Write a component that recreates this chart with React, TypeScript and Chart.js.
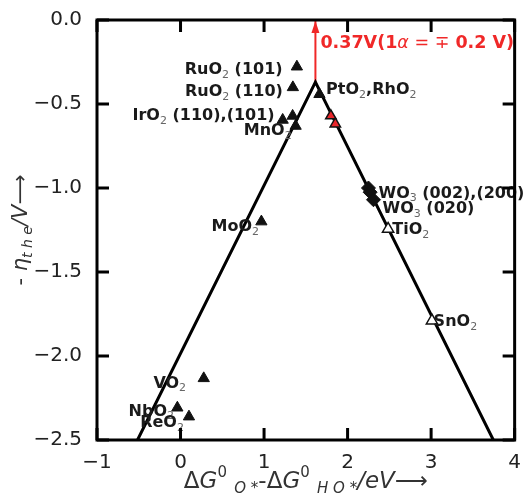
import React, { useEffect, useRef } from "react";
import { Chart, registerables } from "chart.js";

Chart.register(...registerables);

// Volcano branches: limiting potential vs. descriptor, meeting at the apex
const volcanoX = [-0.515, 1.615, 3.745];
const volcanoY = [-2.5, -0.37, -2.5];

// Apex of the volcano (top of the red arrow)
const apexX = 1.615;
const apexY = -0.37;

// Rutile-type oxides (filled black triangles)
const oxideNames = ["RuO2(101)", "RuO2(110)", "IrO2(110)", "IrO2(101)", "MnO2", "PtO2", "MoO2", "VO2", "NbO2", "ReO2"];
const oxideX = [1.393, 1.345, 1.223, 1.342, 1.378, 1.663, 0.968, 0.278, -0.038, 0.101];
const oxideY = [-0.278, -0.401, -0.595, -0.571, -0.631, -0.442, -1.2, -2.133, -2.308, -2.361];

// RhO2 surfaces (red triangles)
const rhoX = [1.8, 1.853];
const rhoY = [-0.57, -0.619];

// WO3 surfaces (black diamonds)
const wo3X = [2.25, 2.27, 2.31];
const wo3Y = [-1.0, -1.025, -1.07];

// TiO2, SnO2 (open triangles)
const openX = [2.485, 3.01];
const openY = [-1.244, -1.79];

// Axis ticks
const xTicks = [-1, 0, 1, 2, 3, 4];
const yTicks = [0, -0.5, -1, -1.5, -2, -2.5];

// Point labels ("_" marks the following character as a subscript)
const labelTexts = [
  "RuO_2 (101)",
  "RuO_2 (110)",
  "IrO_2 (110),(101)",
  "MnO_2",
  "PtO_2,RhO_2",
  "WO_3 (002),(200)",
  "WO_3 (020)",
  "TiO_2",
  "MoO_2",
  "SnO_2",
  "VO_2",
  "NbO_2",
  "ReO_2",
];
const labelX = [1.222, 1.225, 1.127, 0.757, 1.743, 2.37, 2.418, 2.536, 0.372, 3.03, -0.325, -0.622, -0.483];
const labelY = [-0.298, -0.427, -0.571, -0.659, -0.417, -1.032, -1.127, -1.25, -1.232, -1.796, -2.163, -2.331, -2.4];
const labelAlign = ["right", "right", "right", "left", "left", "left", "left", "left", "left", "left", "left", "left", "left"];

const annotationText = "0.37V(1";

type Seg = { t: string; font: string; dy?: number; color?: string };

const FAM = "'DejaVu Sans'";
const LABEL_FONT = `bold 16px ${FAM}`;
const SUB_FONT = `11px ${FAM}`;

function drawRich(
  ctx: CanvasRenderingContext2D,
  segs: Seg[],
  x: number,
  y: number,
  align: string,
  color: string
) {
  ctx.save();
  ctx.textBaseline = "middle";
  ctx.textAlign = "left";
  let w = 0;
  for (const s of segs) {
    ctx.font = s.font;
    w += ctx.measureText(s.t).width;
  }
  let cx = align === "left" ? x : align === "right" ? x - w : x - w / 2;
  for (const s of segs) {
    ctx.font = s.font;
    ctx.fillStyle = s.color || color;
    ctx.fillText(s.t, cx, y + (s.dy || 0));
    cx += ctx.measureText(s.t).width;
  }
  ctx.restore();
}

function labelSegs(text: string): Seg[] {
  const segs: Seg[] = [];
  let buf = "";
  for (let i = 0; i < text.length; i++) {
    const ch = text[i];
    if (ch === "_" && i + 1 < text.length) {
      if (buf) segs.push({ t: buf, font: LABEL_FONT });
      buf = "";
      segs.push({ t: text[i + 1], font: SUB_FONT, dy: 5, color: "#666" });
      i++;
    } else {
      buf += ch;
    }
  }
  if (buf) segs.push({ t: buf, font: LABEL_FONT });
  return segs;
}

const fmtMinus = (s: string) => s.replace("-", "\u2212");

const decorPlugin = {
  id: "decor",
  afterDatasetsDraw(chart: any) {
    const ctx: CanvasRenderingContext2D = chart.ctx;
    const { left, right, top, bottom } = chart.chartArea;
    const xs = chart.scales.x;
    const ys = chart.scales.y;

    // red arrow head at the top of the apex line
    const ax = xs.getPixelForValue(apexX);
    const ay = ys.getPixelForValue(0);
    ctx.save();
    ctx.fillStyle = "#f02828";
    ctx.beginPath();
    ctx.moveTo(ax, ay + 1);
    ctx.lineTo(ax - 4, ay + 13);
    ctx.lineTo(ax + 4, ay + 13);
    ctx.closePath();
    ctx.fill();
    ctx.restore();

    // point labels
    for (let i = 0; i < labelTexts.length; i++) {
      drawRich(
        ctx,
        labelSegs(labelTexts[i]),
        xs.getPixelForValue(labelX[i]),
        ys.getPixelForValue(labelY[i]),
        labelAlign[i],
        "#1a1a1a"
      );
    }

    // frame and inward ticks on all four sides
    ctx.save();
    ctx.strokeStyle = "#000";
    ctx.lineWidth = 3;
    ctx.lineCap = "butt";
    ctx.strokeRect(left, top, right - left, bottom - top);
    const tl = 12;
    ctx.beginPath();
    for (const v of xTicks) {
      const px = xs.getPixelForValue(v);
      ctx.moveTo(px, bottom);
      ctx.lineTo(px, bottom - tl);
      ctx.moveTo(px, top);
      ctx.lineTo(px, top + tl);
    }
    for (const v of yTicks) {
      const py = ys.getPixelForValue(v);
      ctx.moveTo(left, py);
      ctx.lineTo(left + tl, py);
      ctx.moveTo(right, py);
      ctx.lineTo(right - tl, py);
    }
    ctx.stroke();
    ctx.restore();

    // annotation of the apex value
    const red = "#f02828";
    const RF = 17.5;
    drawRich(
      ctx,
      [
        { t: annotationText, font: `bold ${RF}px ${FAM}` },
        { t: "\u03b1", font: `italic ${RF}px ${FAM}` },
        { t: " = ", font: `${RF}px ${FAM}` },
        { t: "\u2213", font: `${RF}px ${FAM}` },
        { t: " 0.2 V)", font: `bold ${RF}px ${FAM}` },
      ],
      ax + 5,
      ys.getPixelForValue(-0.14),
      "left",
      red
    );

    // x axis title
    const tc = "#333";
    const F = 23;
    drawRich(
      ctx,
      [
        { t: "\u0394", font: `${F}px ${FAM}` },
        { t: "G", font: `italic ${F}px ${FAM}` },
        { t: "0", font: `15px ${FAM}`, dy: -9 },
        { t: " ", font: `${F}px ${FAM}` },
        { t: "O *", font: `italic 15px ${FAM}`, dy: 7 },
        { t: "-\u0394", font: `${F}px ${FAM}` },
        { t: "G", font: `italic ${F}px ${FAM}` },
        { t: "0", font: `15px ${FAM}`, dy: -9 },
        { t: " ", font: `${F}px ${FAM}` },
        { t: "H O *", font: `italic 15px ${FAM}`, dy: 7 },
        { t: "/eV", font: `italic ${F}px ${FAM}` },
        { t: "\u27f6", font: `${F}px ${FAM}` },
      ],
      (left + right) / 2,
      482,
      "center",
      tc
    );

    // y axis title (rotated)
    const YF = 21;
    ctx.save();
    ctx.translate(22, (top + bottom) / 2);
    ctx.rotate(-Math.PI / 2);
    drawRich(
      ctx,
      [
        { t: "- ", font: `${YF}px ${FAM}` },
        { t: "\u03b7", font: `italic ${YF}px ${FAM}` },
        { t: "t h e", font: `italic 14px ${FAM}`, dy: 6 },
        { t: "/V", font: `italic ${YF}px ${FAM}` },
        { t: "\u27f6", font: `${YF}px ${FAM}` },
      ],
      0,
      0,
      "center",
      tc
    );
    ctx.restore();
  },
};

export default function App() {
  const ref = useRef<HTMLCanvasElement | null>(null);

  useEffect(() => {
    if (!ref.current) return;
    const toPts = (xs: number[], ys: number[]) => xs.map((x, i) => ({ x, y: ys[i] }));

    const chart = new Chart(ref.current, {
      type: "scatter",
      data: {
        datasets: [
          {
            label: "rutile oxides",
            data: toPts(oxideX, oxideY),
            pointStyle: "triangle",
            pointRadius: 6.5,
            backgroundColor: "#111",
            borderColor: "#111",
            borderWidth: 1,
            order: 1,
          },
          {
            label: "RhO2",
            data: toPts(rhoX, rhoY),
            pointStyle: "triangle",
            pointRadius: 6,
            backgroundColor: "#e8252a",
            borderColor: "#111",
            borderWidth: 1.5,
            order: 1,
          },
          {
            label: "WO3",
            data: toPts(wo3X, wo3Y),
            pointStyle: "rectRot",
            pointRadius: 7,
            backgroundColor: "#111",
            borderColor: "#111",
            borderWidth: 1,
            order: 1,
          },
          {
            label: "TiO2, SnO2",
            data: toPts(openX, openY),
            pointStyle: "triangle",
            pointRadius: 6.5,
            backgroundColor: "#fff",
            borderColor: "#111",
            borderWidth: 1.5,
            order: 1,
          },
          {
            label: "volcano",
            type: "line",
            data: toPts(volcanoX, volcanoY),
            borderColor: "#000",
            borderWidth: 3,
            pointRadius: 0,
            fill: false,
            tension: 0,
            order: 2,
          },
          {
            label: "apex",
            type: "line",
            data: toPts([apexX, apexX], [apexY, 0]),
            borderColor: "#f02828",
            borderWidth: 2,
            pointRadius: 0,
            fill: false,
            order: 3,
          },
        ] as any,
      },
      options: {
        responsive: false,
        animation: false,
        devicePixelRatio: 1,
        layout: { padding: { top: 20, right: 7, left: 0, bottom: 0 } },
        plugins: { legend: { display: false }, tooltip: { enabled: false } },
        scales: {
          x: {
            type: "linear",
            min: -1,
            max: 4,
            afterBuildTicks: (s: any) => {
              s.ticks = xTicks.map((v) => ({ value: v }));
            },
            afterFit: (s: any) => {
              s.height = 54;
            },
            grid: { display: false },
            border: { display: false },
            ticks: {
              autoSkip: false,
              maxRotation: 0,
              padding: 3,
              color: "#222",
              font: { family: "DejaVu Sans", size: 20 },
              callback: (v: any) => fmtMinus(String(v)),
            },
          },
          y: {
            type: "linear",
            min: -2.5,
            max: 0,
            afterBuildTicks: (s: any) => {
              s.ticks = yTicks.map((v) => ({ value: v }));
            },
            afterFit: (s: any) => {
              s.width = 97;
            },
            grid: { display: false },
            border: { display: false },
            ticks: {
              autoSkip: false,
              padding: 7,
              color: "#222",
              font: { family: "DejaVu Sans", size: 20 },
              callback: (v: any) => fmtMinus(Number(v).toFixed(1)),
            },
          },
        },
      } as any,
      plugins: [decorPlugin],
    });
    return () => chart.destroy();
  }, []);

  return (
    <div style={{ position: "absolute", left: 0, top: 0, width: 524, height: 494, background: "#fff" }}>
      <canvas ref={ref} width={524} height={494} />
    </div>
  );
}
